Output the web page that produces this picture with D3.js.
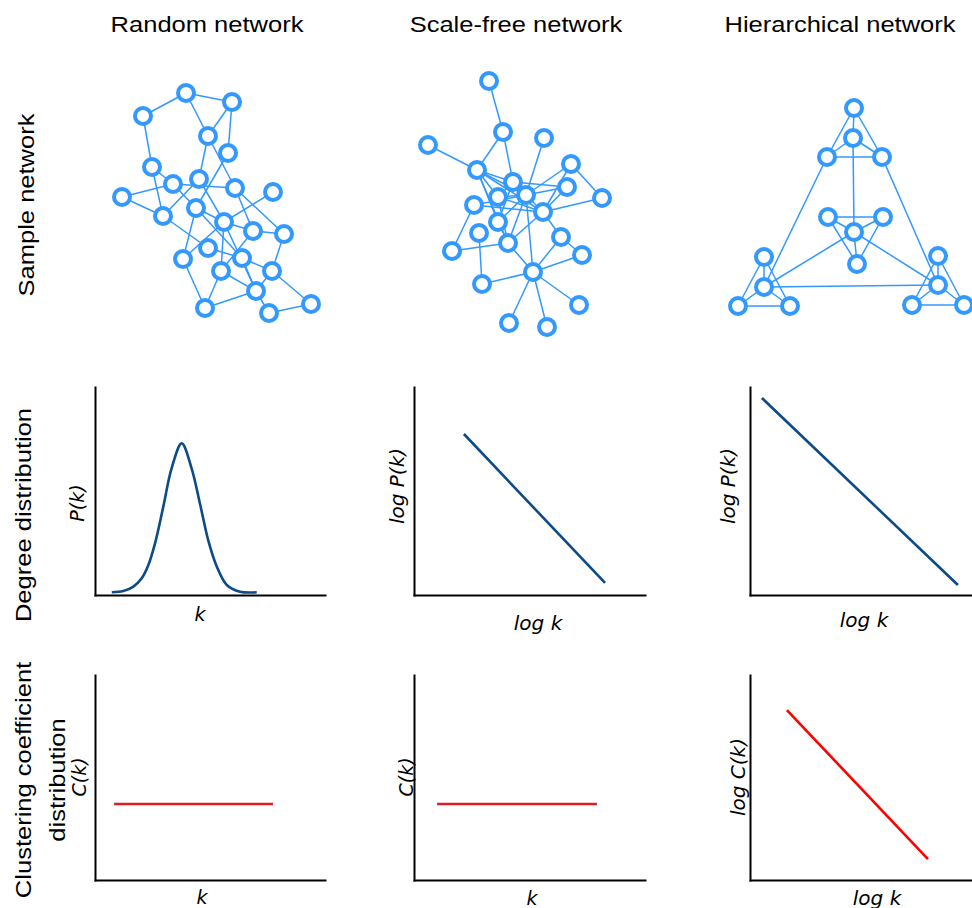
<!DOCTYPE html>
<html>
<head>
<meta charset="utf-8">
<script src="https://cdn.jsdelivr.net/npm/d3@7"></script>
<style>
  body { margin: 0; background: #fff; }
  svg { display: block; }
  .axis path { stroke: #000; stroke-width: 2; stroke-linecap: square; }
</style>
</head>
<body>
<svg id="chart"></svg>
<script>
// ---- data ----
const colTitles = ["Random network", "Scale-free network", "Hierarchical network"];
const rowLabels = [["Sample network"], ["Degree distribution"], ["Clustering coefficient", "distribution"]];

// node positions are layout coordinates inside each network box
const randomNodes = [
  [1, 86, 23], [2, 132, 32], [3, 43, 46], [4, 108, 66], [5, 128, 83],
  [6, 52, 97], [7, 73, 114], [8, 99, 109], [9, 135, 118], [10, 173, 122],
  [11, 22, 127], [12, 63, 146], [13, 96, 138], [14, 124, 152], [15, 153, 161],
  [16, 184, 164], [17, 108, 178], [18, 142, 188], [19, 83, 189], [20, 121, 201],
  [21, 172, 201], [22, 156, 221], [23, 211, 234], [24, 105, 238], [25, 169, 243]
];
const randomEdges = [
  [1, 2], [1, 3], [1, 4], [2, 4], [2, 5], [3, 6], [4, 8], [4, 9], [5, 13],
  [6, 7], [6, 12], [7, 11], [7, 9], [7, 13], [11, 12], [12, 8], [12, 17],
  [8, 14], [13, 14], [13, 18], [13, 19], [9, 15], [9, 16], [10, 14], [14, 15],
  [14, 20], [14, 19], [14, 22], [15, 16], [15, 20], [16, 21], [17, 18], [18, 21],
  [18, 22], [19, 24], [20, 24], [20, 22], [21, 23], [21, 22], [22, 24], [22, 25],
  [25, 23]
];

const scaleFreeNodes = [
  ["a", 89, 21], ["b", 103, 72], ["c", 144, 78], ["d", 28, 85], ["e", 77, 110],
  ["f", 171, 104], ["g", 113, 122], ["h", 167, 127], ["i", 98, 137], ["j", 126, 135],
  ["k", 202, 138], ["l", 74, 145], ["m", 143, 152], ["n", 98, 162], ["o", 79, 173],
  ["p", 161, 177], ["q", 108, 183], ["r", 52, 191], ["s", 182, 195], ["t", 133, 212],
  ["u", 82, 224], ["v", 179, 245], ["w", 109, 263], ["x", 147, 267]
];
const scaleFreeEdges = [
  ["a", "b"], ["b", "e"], ["b", "g"], ["c", "j"], ["d", "e"], ["e", "g"], ["e", "i"],
  ["e", "j"], ["e", "n"], ["e", "m"], ["e", "q"], ["f", "j"], ["f", "k"], ["f", "m"],
  ["h", "g"], ["h", "j"], ["h", "m"], ["i", "j"], ["i", "m"], ["i", "q"], ["g", "i"],
  ["g", "m"], ["g", "n"], ["k", "m"], ["l", "j"], ["l", "r"], ["l", "m"], ["n", "j"],
  ["n", "q"], ["o", "u"], ["q", "r"], ["q", "t"], ["q", "j"], ["q", "m"], ["j", "t"],
  ["m", "p"], ["p", "s"], ["p", "t"], ["s", "t"], ["t", "u"], ["t", "v"], ["t", "w"],
  ["t", "x"]
];

const hierNodes = [
  ["T0", 144, 18], ["T1", 143, 48], ["T2", 117, 67], ["T3", 172, 67],
  ["M2", 118, 127], ["M3", 173, 127], ["M1", 144, 142], ["M4", 147, 174],
  ["L0", 54, 167], ["L1", 54, 197], ["L2", 28, 216], ["L3", 80, 216],
  ["R0", 228, 166], ["R1", 228, 195], ["R2", 202, 215], ["R3", 254, 215]
];
const hierEdges = [
  ["T0", "T1"], ["T0", "T2"], ["T0", "T3"], ["T1", "T2"], ["T1", "T3"], ["T2", "T3"],
  ["M1", "M2"], ["M1", "M3"], ["M1", "M4"], ["M2", "M3"], ["M2", "M4"], ["M3", "M4"],
  ["L0", "L1"], ["L0", "L2"], ["L0", "L3"], ["L1", "L2"], ["L1", "L3"], ["L2", "L3"],
  ["R0", "R1"], ["R0", "R2"], ["R0", "R3"], ["R1", "R2"], ["R1", "R3"], ["R2", "R3"],
  ["T2", "L1"], ["T3", "R1"], ["T1", "M1"], ["L1", "R1"], ["M1", "L1"], ["M1", "R1"]
];

// curves, in axis units (0..10 both ways)
const randomDegree = [
  [0.73, 0.13], [1.23, 0.19], [1.67, 0.40], [2.03, 0.80], [2.32, 1.44], [2.61, 2.48],
  [2.97, 4.25], [3.33, 6.09], [3.77, 7.29], [4.20, 6.09], [4.57, 4.36], [4.93, 2.60],
  [5.29, 1.38], [5.73, 0.48], [6.30, 0.16], [7.03, 0.13]
];
const scaleFreeDegree = [[2.16, 7.74], [8.27, 0.58]];
const hierDegree = [[0.53, 9.47], [9.24, 0.48]];
const randomClustering = [[0.83, 3.71], [7.74, 3.71]];
const scaleFreeClustering = [[1.0, 3.71], [7.92, 3.71]];
const hierClustering = [[1.64, 8.29], [7.91, 1.02]];

// ---- drawing ----
const width = 972, height = 908;
const svg = d3.select("#chart").attr("width", width).attr("height", height);

const nodeColor = "#3399ff";
const blue = "#0c4a88";
const red = "#de1c26";
const sans = "'Liberation Sans', Arial, Helvetica, sans-serif";
const dejavu = "'DejaVu Sans', sans-serif";

function label(txt, x, y, opts) {
  const o = Object.assign({ rot: 0, size: 22, family: sans, italic: false, sx: 1 }, opts);
  svg.append("text")
    .attr("transform", `translate(${x},${y}) rotate(${o.rot}) scale(${o.sx},1)`)
    .attr("text-anchor", "middle")
    .attr("font-family", o.family)
    .attr("font-size", o.size)
    .attr("font-style", o.italic ? "italic" : "normal")
    .attr("fill", "#000")
    .text(txt);
}

// column titles
const titleX = [207, 516, 840];
colTitles.forEach((t, i) => label(t, titleX[i], 32, { sx: 1.16 }));

// row labels
label(rowLabels[0][0], 34, 205, { rot: -90, sx: 1.16 });
label(rowLabels[1][0], 31, 515, { rot: -90, sx: 1.16 });
label(rowLabels[2][0], 31, 780, { rot: -90, sx: 1.16 });
label(rowLabels[2][1], 65, 780, { rot: -90, sx: 1.16 });

function drawNetwork(ox, oy, nodes, edges) {
  const x = d3.scaleLinear().domain([0, 270]).range([ox, ox + 270]);
  const y = d3.scaleLinear().domain([0, 280]).range([oy, oy + 280]);
  const byId = new Map(nodes.map(d => [d[0], d]));
  const g = svg.append("g");
  g.selectAll("line").data(edges).join("line")
    .attr("x1", d => x(byId.get(d[0])[1]))
    .attr("y1", d => y(byId.get(d[0])[2]))
    .attr("x2", d => x(byId.get(d[1])[1]))
    .attr("y2", d => y(byId.get(d[1])[2]))
    .attr("stroke", nodeColor)
    .attr("stroke-width", 1.5);
  g.selectAll("circle").data(nodes).join("circle")
    .attr("cx", d => x(d[1]))
    .attr("cy", d => y(d[2]))
    .attr("r", 8)
    .attr("fill", "#fff")
    .attr("stroke", nodeColor)
    .attr("stroke-width", 4);
}

drawNetwork(100, 70, randomNodes, randomEdges);
drawNetwork(400, 60, scaleFreeNodes, scaleFreeEdges);
drawNetwork(710, 90, hierNodes, hierEdges);

function drawPlot(box, data, color, curve) {
  const xs = d3.scaleLinear().domain([0, 10]).range([box.x0, box.x1]);
  const ys = d3.scaleLinear().domain([0, 10]).range([box.bottom, box.top]);
  const g = svg.append("g");
  g.append("g").attr("class", "axis")
    .attr("transform", `translate(0,${box.bottom})`)
    .call(d3.axisBottom(xs).ticks(0).tickSizeOuter(0));
  g.append("g").attr("class", "axis")
    .attr("transform", `translate(${box.x0},0)`)
    .call(d3.axisLeft(ys).ticks(0).tickSizeOuter(0));
  const line = d3.line().x(d => xs(d[0])).y(d => ys(d[1])).curve(curve || d3.curveLinear);
  g.append("path").datum(data)
    .attr("d", line)
    .attr("fill", "none")
    .attr("stroke", color)
    .attr("stroke-width", 2.6);
}

const colX = [[95, 325], [414, 645], [750, 975]];
const row2 = { top: 387, bottom: 595 };
const row3 = { top: 675, bottom: 880 };

drawPlot({ x0: colX[0][0], x1: colX[0][1], ...row2 }, randomDegree, blue, d3.curveCatmullRom);
drawPlot({ x0: colX[1][0], x1: colX[1][1], ...row2 }, scaleFreeDegree, blue);
drawPlot({ x0: colX[2][0], x1: colX[2][1], ...row2 }, hierDegree, blue);
drawPlot({ x0: colX[0][0], x1: colX[0][1], ...row3 }, randomClustering, red);
drawPlot({ x0: colX[1][0], x1: colX[1][1], ...row3 }, scaleFreeClustering, red);
drawPlot({ x0: colX[2][0], x1: colX[2][1], ...row3 }, hierClustering, "#ff0000");

// axis titles
const it = { family: dejavu, italic: true, size: 19 };
const it20 = { family: dejavu, italic: true, size: 20 };
label("P(k)", 84, 503, { ...it, rot: -90 });
label("k", 200, 621, it);
label("log P(k)", 404, 486, { ...it20, rot: -90 });
label("log k", 538, 630, it20);
label("log P(k)", 735, 486, { ...it20, rot: -90 });
label("log k", 864, 627, it20);
label("C(k)", 86, 777, { ...it, rot: -90 });
label("k", 202, 904, it);
label("C(k)", 413, 777, { ...it, rot: -90 });
label("k", 532, 905, it);
label("log C(k)", 745, 777, { ...it20, rot: -90 });
label("log k", 877, 905, it20);
</script>
</body>
</html>
